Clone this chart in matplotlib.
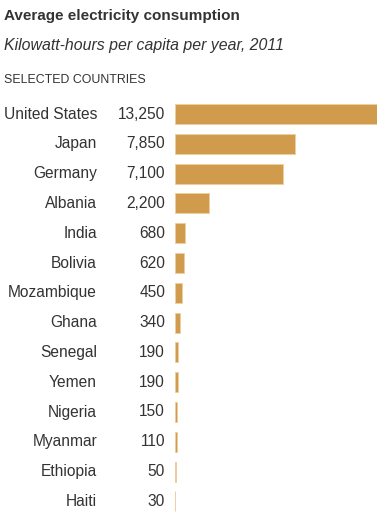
import matplotlib.pyplot as plt

countries = ["United States", "Japan", "Germany", "Albania", "India", "Bolivia",
             "Mozambique", "Ghana", "Senegal", "Yemen", "Nigeria", "Myanmar",
             "Ethiopia", "Haiti"]
kwh = [13250, 7850, 7100, 2200, 680, 620, 450, 340, 190, 190, 150, 110, 50, 30]

plt.rcParams['font.family'] = ['Liberation Sans', 'DejaVu Sans']
bar_color = "#d09b4c"
text_color = "#333333"

fig = plt.figure(figsize=(3.82, 5.27), dpi=100)
W, H = 382, 527
ax = fig.add_axes([175 / W, 1 - 516.3 / H, 202 / W, (516.3 - 99.1) / H])

y = list(range(len(countries)))
ax.barh(y, kwh, height=0.67, color=bar_color, edgecolor="#f0cf9e", linewidth=0.7)
ax.set_xlim(0, 13250)
ax.set_ylim(len(countries) - 0.5, -0.5)
ax.axis("off")

tr = ax.get_yaxis_transform()
for i, (c, v) in enumerate(zip(countries, kwh)):
    ax.text(-0.386, i, c, transform=tr, ha="right", va="center",
            fontsize=11.2, color=text_color)
    ax.text(-0.049, i, f"{v:,}", transform=tr, ha="right", va="center",
            fontsize=11.2, color=text_color)

fig.text(4 / W, 1 - 16 / H, "Average electricity consumption", fontsize=11,
         fontweight="bold", color=text_color, ha="left", va="center")
fig.text(4 / W, 1 - 45 / H, "Kilowatt-hours per capita per year, 2011",
         fontsize=11.4, style="italic", color=text_color, ha="left", va="center")
fig.text(4 / W, 1 - 80 / H, "SELECTED COUNTRIES", fontsize=8.9,
         color=text_color, ha="left", va="center")

fig.savefig("out.png", dpi=100)
